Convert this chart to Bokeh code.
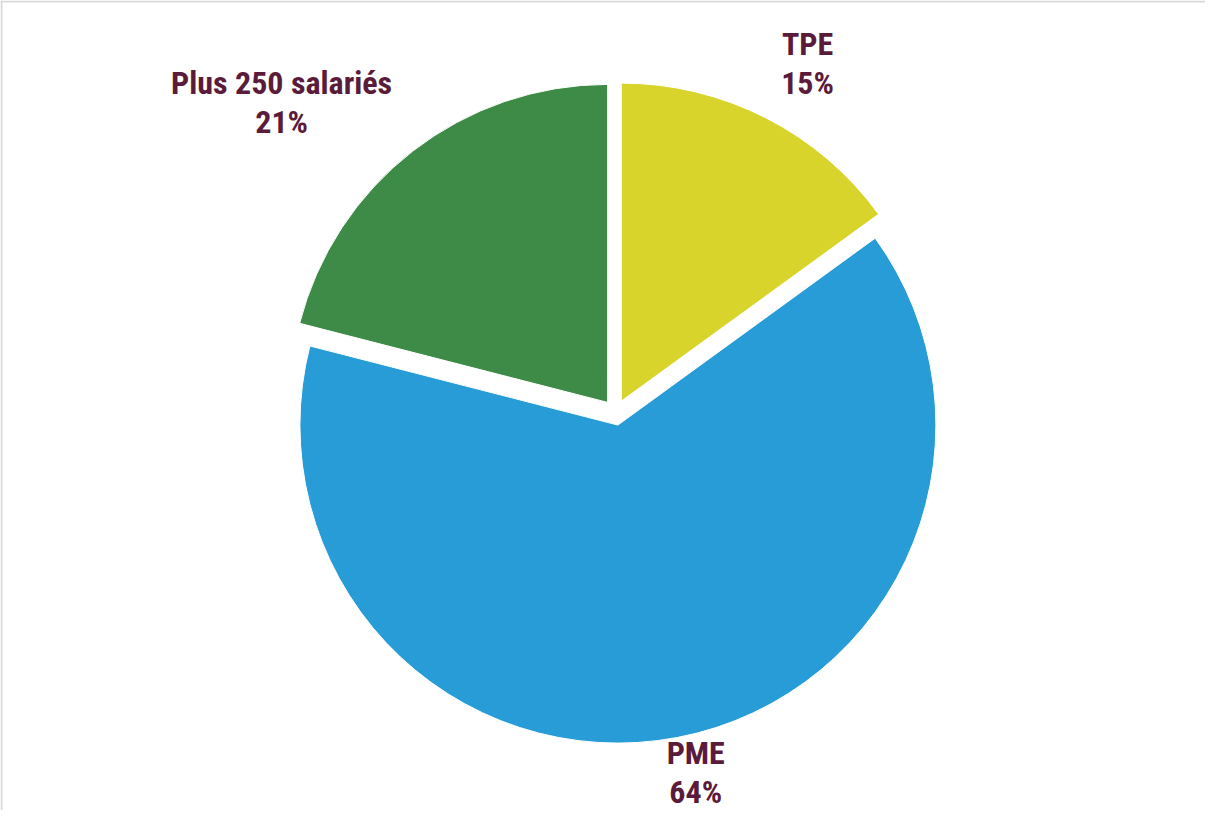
import math
from bokeh.plotting import figure
from bokeh.models import Range1d, ColumnDataSource, Span
from bokeh.core.properties import value
from bokeh.embed import file_html
from bokeh.resources import INLINE

# ---- data ----
categories = ["TPE", "PME", "Plus 250 salariés"]
shares = [15, 64, 21]
colors = ["#D9D42C", "#279CD7", "#3D8B46"]
label_color = "#5B1B3B"

# ---- layout ----
W, H = 1205, 810
cx, cy = 615, H - 412          # pie centre (data units == pixels)
radius = 318
explode = 12.8
label_radius = 385
label_lift = 6
font = "'Roboto Condensed', 'Liberation Sans Narrow', 'DejaVu Sans Condensed', Roboto"
font_size = 32
char_w = 0.18
min_label_y = 38

total = float(sum(shares))
xs, ys, starts, ends, lx, ly, texts = [], [], [], [], [], [], []
cum = 0.0
for cat, v in zip(categories, shares):
    a0 = 90 - cum / total * 360
    cum += v
    a1 = 90 - cum / total * 360
    mid = math.radians((a0 + a1) / 2)
    xs.append(cx + explode * math.cos(mid))
    ys.append(cy + explode * math.sin(mid))
    starts.append(math.radians(a0))
    ends.append(math.radians(a1))
    txt = f"{cat}\n{v}%"
    texts.append(txt)
    half_w = max(len(s) for s in txt.split("\n")) * font_size * char_w
    nudge = half_w * max(-1.0, min(1.0, math.cos(mid) * 2.5))
    lx.append(cx + label_radius * math.cos(mid) + nudge)
    ly.append(max(min_label_y, cy + label_radius * math.sin(mid) + label_lift))

src = ColumnDataSource(dict(x=xs, y=ys, start=starts, end=ends, color=colors))
lsrc = ColumnDataSource(dict(x=lx, y=ly, text=texts))

p = figure(width=W, height=H, output_backend="svg", toolbar_location=None,
           x_range=Range1d(0, W), y_range=Range1d(0, H), min_border=0,
           background_fill_color="white", border_fill_color="white")
p.axis.visible = False
p.grid.visible = False
p.outline_line_color = None

p.add_layout(Span(location=1, dimension="height", line_color="#D9D9D9", line_width=2))
p.add_layout(Span(location=H - 1, dimension="width", line_color="#D9D9D9", line_width=2))

p.wedge(x="x", y="y", radius=radius, start_angle="start", end_angle="end",
        direction="clock", fill_color="color", line_color="white", line_width=1,
        source=src)

p.text(x="x", y="y", text="text", source=lsrc, text_font=value(font),
       text_font_style="bold", text_font_size=f"{font_size}px",
       text_color=label_color, text_align="center", text_baseline="middle",
       text_line_height=1.03)

open("out.html", "w").write(file_html(p, INLINE))
